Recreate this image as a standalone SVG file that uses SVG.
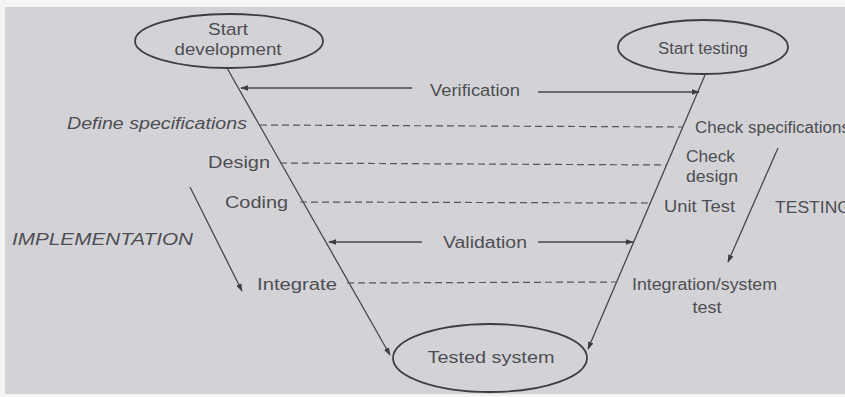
<svg xmlns="http://www.w3.org/2000/svg" width="845" height="397" viewBox="0 0 845 397">
<defs>
<style>
.t{font-family:"Liberation Sans",Arial,sans-serif;font-size:16px;fill:#4e4e52}
.i{font-style:italic}
.e{fill:none;stroke:#3e3e42;stroke-width:1.8}
.l{stroke:#48484c;stroke-width:1.3;fill:none}
.d{stroke:#55555a;stroke-width:1.2;stroke-dasharray:7 4;fill:none}
</style>
<marker id="ah" viewBox="0 0 10 10" refX="9" refY="5" markerWidth="8" markerHeight="8" markerUnits="userSpaceOnUse" orient="auto">
<path d="M0,1.5 L10,5 L0,8.5 z" fill="#3e3e42"/>
</marker>
</defs>
<rect x="0" y="0" width="845" height="397" fill="#f4f4f4"/>
<rect x="5" y="7" width="840" height="387" fill="#d3d3d7"/>

<g id="start-development">
<ellipse class="e" cx="229" cy="41" rx="94" ry="27"/>
<text class="t" x="228" y="35" text-anchor="middle" textLength="40" lengthAdjust="spacingAndGlyphs">Start</text>
<text class="t" x="228" y="55" text-anchor="middle" textLength="107" lengthAdjust="spacingAndGlyphs">development</text>
</g>
<g id="start-testing">
<ellipse class="e" cx="703" cy="47" rx="85" ry="27"/>
<text class="t" x="703" y="54" text-anchor="middle" textLength="90" lengthAdjust="spacingAndGlyphs">Start testing</text>
</g>
<g id="tested-system">
<ellipse class="e" cx="490" cy="358" rx="97" ry="34"/>
<text class="t" x="491" y="363" text-anchor="middle" textLength="127" lengthAdjust="spacingAndGlyphs">Tested system</text>
</g>

<g id="left-labels">
<text class="t i" x="67" y="129" textLength="180" lengthAdjust="spacingAndGlyphs">Define specifications</text>
<text class="t" x="208" y="168" textLength="62" lengthAdjust="spacingAndGlyphs">Design</text>
<text class="t" x="225" y="208" textLength="63" lengthAdjust="spacingAndGlyphs">Coding</text>
<text class="t i" x="12" y="245" textLength="181" lengthAdjust="spacingAndGlyphs">IMPLEMENTATION</text>
<text class="t" x="257" y="290" textLength="80" lengthAdjust="spacingAndGlyphs">Integrate</text>
</g>
<g id="right-labels">
<text class="t" x="695" y="133" textLength="155" lengthAdjust="spacingAndGlyphs">Check specifications</text>
<text class="t" x="686" y="162" textLength="49" lengthAdjust="spacingAndGlyphs">Check</text>
<text class="t" x="686" y="182" textLength="52" lengthAdjust="spacingAndGlyphs">design</text>
<text class="t" x="664" y="212" textLength="71" lengthAdjust="spacingAndGlyphs">Unit Test</text>
<text class="t" x="775" y="213" textLength="76" lengthAdjust="spacingAndGlyphs">TESTING</text>
<text class="t" x="632" y="290" textLength="145" lengthAdjust="spacingAndGlyphs">Integration/system</text>
<text class="t" x="707" y="313" text-anchor="middle" textLength="29" lengthAdjust="spacingAndGlyphs">test</text>
</g>
<g id="middle-labels">
<text class="t" x="430" y="96" textLength="90" lengthAdjust="spacingAndGlyphs">Verification</text>
<text class="t" x="443" y="248" textLength="84" lengthAdjust="spacingAndGlyphs">Validation</text>
</g>

<g id="connectors">
<line class="l" x1="227" y1="68" x2="390" y2="355" marker-end="url(#ah)"/>
<line class="l" x1="705" y1="75" x2="588" y2="349" marker-end="url(#ah)"/>
<line class="l" x1="412" y1="88" x2="241" y2="88" marker-end="url(#ah)"/>
<line class="l" x1="538" y1="92" x2="699" y2="92" marker-end="url(#ah)"/>
<line class="l" x1="422" y1="242" x2="329" y2="242" marker-end="url(#ah)"/>
<line class="l" x1="538" y1="242" x2="633" y2="242" marker-end="url(#ah)"/>
<line class="l" x1="190" y1="187" x2="242" y2="291" marker-end="url(#ah)"/>
<line class="l" x1="778" y1="148" x2="728" y2="262" marker-end="url(#ah)"/>
<line class="d" x1="260" y1="125" x2="682" y2="127"/>
<line class="d" x1="280" y1="163" x2="667" y2="165"/>
<line class="d" x1="300" y1="202" x2="651" y2="203"/>
<line class="d" x1="347" y1="283" x2="616" y2="282"/>
</g>
</svg>
